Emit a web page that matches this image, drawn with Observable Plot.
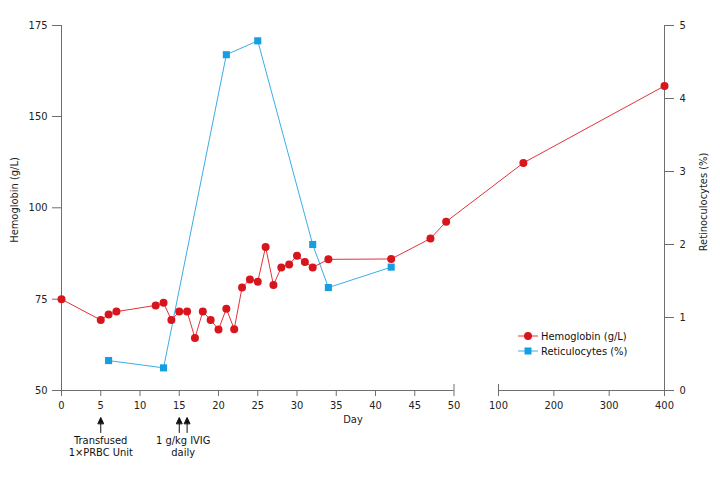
<!DOCTYPE html>
<html><head><meta charset="utf-8">
<script src="https://cdn.jsdelivr.net/npm/d3@7"></script>
<script src="https://cdn.jsdelivr.net/npm/@observablehq/plot@0.6"></script>
<style>body{margin:0;background:#fff}</style>
</head><body><div id="chart"></div>
<script>
// ---- data ----
const hbDays   = [0, 5, 6, 7, 12, 13, 14, 15, 16, 17, 18, 19, 20, 21, 22, 23, 24, 25, 26, 27, 28, 29, 30, 31, 32, 34, 42, 47, 49, 145, 400];
const hbValues = [75, 69.3, 70.8, 71.6, 73.3, 74.0, 69.3, 71.6, 71.6, 64.4, 71.6, 69.3, 66.7, 72.4, 66.8, 78.2, 80.4, 79.8, 89.3, 78.9, 83.7, 84.5, 86.9, 85.2, 83.7, 85.9, 86.0, 91.6, 96.2, 124.6, 158.4];
const retDays   = [6, 13, 21, 25, 32, 34, 42];
const retValues = [0.41, 0.31, 4.6, 4.79, 2.0, 1.41, 1.69];
const xTicks   = [0, 5, 10, 15, 20, 25, 30, 35, 40, 45, 50, 100, 200, 300, 400];
const hbTicks  = [50, 75, 100, 150, 175];
const retTicks = [0, 1, 2, 3, 4, 5];
const axisSegments = [{from: 0, to: 50}, {from: 100, to: 400}];
const breakTicks = [50, 100];
const arrowDays = [5, 15, 16];
const annotations = [
  {day: 5, text: "Transfused\n1×PRBC Unit"},
  {day: 15.5, text: "1 g/kg IVIG\ndaily"}
];
const seriesNames = ["Hemoglobin (g/L)", "Reticulocytes (%)"];

// ---- layout of the broken / piecewise scales ----
const xBreakDomain = [0, 50, 100, 400];
const xBreakRange  = [61, 453.5, 498, 664];
const yHbDomain = [50, 75, 100, 150, 175];
const yHbRange  = [390, 298.7, 207.3, 116, 25];

const RED = "#d8141c", RED_LINE = "#e0343b";
const BLUE = "#159fe2", BLUE_LINE = "#3aaee8";
const AXIS = "#6e6e6e";
const FONT = "'Liberation Sans Narrow', 'Arial Narrow', 'DejaVu Sans Condensed', sans-serif";

const pxOfHb = d3.scaleLinear(yHbDomain, yHbRange);
const retPx = d3.scaleLinear([0, 5], [yHbRange[0], yHbRange[yHbRange.length - 1]]);
const retToHb = r => pxOfHb.invert(retPx(r));
const hbToRet = h => retPx.invert(pxOfHb(h));

const hb = hbDays.map((d, i) => ({day: d, value: hbValues[i]}));
const ret = retDays.map((d, i) => ({day: d, value: retValues[i], hbEq: retToHb(retValues[i])}));

const arrowShape = {
  draw(ctx, l) {
    ctx.moveTo(0, 0);
    ctx.lineTo(0, -l + 5);
    ctx.moveTo(-2.8, -l + 6);
    ctx.lineTo(0, -l);
    ctx.lineTo(2.8, -l + 6);
    ctx.closePath();
  }
};

const plot = Plot.plot({
  width: 720,
  height: 480,
  marginLeft: 61,
  marginRight: 56,
  marginTop: 25,
  marginBottom: 90,
  style: {fontFamily: FONT, fontSize: "11px", color: "#222", background: "#fff"},
  x: {type: "linear", domain: xBreakDomain, range: xBreakRange},
  y: {type: "linear", domain: yHbDomain, range: yHbRange},
  marks: [
    // axis lines
    Plot.ruleX([0], {stroke: AXIS}),
    Plot.ruleX([400], {stroke: AXIS}),
    Plot.ruleY(axisSegments, {x1: "from", x2: "to", y: () => 50, stroke: AXIS}),
    Plot.ruleX(breakTicks, {insetTop: 359, stroke: AXIS}),
    Plot.axisX(xTicks, {tickSize: 6, tickPadding: 5, stroke: AXIS, label: null, tickFormat: d => String(d)}),
    Plot.axisY(hbTicks, {anchor: "left", tickSize: 9, tickPadding: 5, stroke: AXIS, label: null, tickFormat: d => String(d)}),
    Plot.axisY(retTicks.map(retToHb), {anchor: "right", tickSize: 9, tickPadding: 6, stroke: AXIS, label: null,
      tickFormat: d => String(Math.round(hbToRet(d)))}),
    // axis titles
    Plot.text(["Hemoglobin (g/L)"], {frameAnchor: "left", textAnchor: "middle", dx: -47, dy: -8, rotate: -90, fontSize: 11}),
    Plot.text(["Retinoculocytes (%)"], {frameAnchor: "right", textAnchor: "middle", dx: 39, dy: -6, rotate: -90, fontSize: 11}),
    Plot.text(["Day"], {frameAnchor: "bottom", dx: -10, dy: 32, fontSize: 11}),
    // series
    Plot.line(ret, {x: "day", y: "hbEq", stroke: BLUE_LINE, strokeWidth: 1}),
    Plot.dot(ret, {x: "day", y: "hbEq", symbol: "square", r: 4, fill: BLUE, stroke: "none"}),
    Plot.line(hb, {x: "day", y: "value", stroke: RED_LINE, strokeWidth: 1}),
    Plot.dot(hb, {x: "day", y: "value", r: 4, fill: RED, stroke: "none"}),
    // annotations
    Plot.vector(arrowDays, {x: d => d, frameAnchor: "bottom", dy: 42, length: 15, anchor: "start",
      shape: arrowShape, stroke: "#111", fill: "#111", strokeWidth: 1}),
    Plot.text(annotations, {x: "day", text: "text", frameAnchor: "bottom", dy: 56, lineAnchor: "middle",
      lineHeight: 1.1, fontSize: 11, fill: "#111"})
  ]
});

// legend (inside the plot area, lower right)
const svg = d3.select(plot);
const leg = svg.append("g").attr("font-family", FONT).attr("font-size", 11).attr("fill", "#111")
  .attr("text-anchor", "start");
const legendItems = [
  {name: seriesNames[0], color: RED, line: RED_LINE, symbol: "circle"},
  {name: seriesNames[1], color: BLUE, line: BLUE_LINE, symbol: "square"}
];
legendItems.forEach((it, i) => {
  const y = 336 + i * 15;
  leg.append("line").attr("x1", 518).attr("x2", 538).attr("y1", y).attr("y2", y)
    .attr("stroke", it.line).attr("stroke-width", 1);
  if (it.symbol === "circle") {
    leg.append("circle").attr("cx", 528).attr("cy", y).attr("r", 4).attr("fill", it.color);
  } else {
    leg.append("rect").attr("x", 524.5).attr("y", y - 3.5).attr("width", 7).attr("height", 7).attr("fill", it.color);
  }
  leg.append("text").attr("x", 541).attr("y", y).attr("dy", "0.35em").attr("text-anchor", "start").text(it.name);
});

document.getElementById("chart").appendChild(plot);
</script>
</body></html>
